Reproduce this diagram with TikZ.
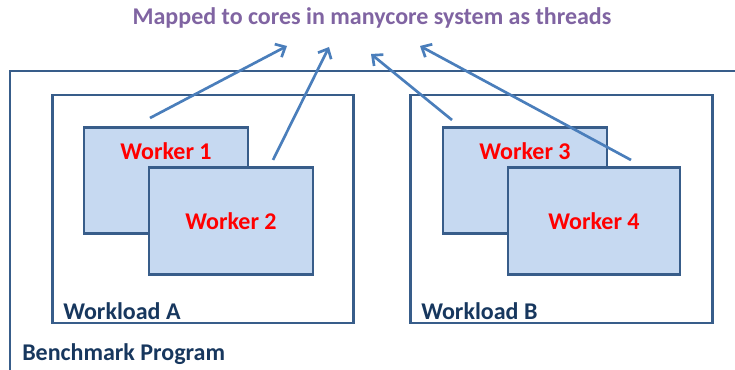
\documentclass[tikz,border=0pt]{standalone}
\usepackage{fontspec}
\setmainfont{Carlito}
\usepackage{xcolor}
\usepackage{tikz}
\usetikzlibrary{arrows.meta,positioning}

\definecolor{boxline}{RGB}{56,93,138}
\definecolor{boxfill}{RGB}{198,217,241}
\definecolor{arrowblue}{RGB}{74,126,187}
\definecolor{navytext}{RGB}{23,55,94}
\definecolor{titlepurple}{RGB}{128,100,162}

\tikzset{
  frame/.style={draw=boxline,line width=2.1pt},
  workload/.style={frame,minimum width=226pt,minimum height=171pt,inner sep=0pt},
  worker/.style={frame,fill=boxfill,minimum width=123pt,minimum height=80pt,
    inner sep=0pt,text=red,font=\bfseries\fontsize{18}{21}\selectfont},
  wlabel/.style={text=red,font=\bfseries\fontsize{18}{21}\selectfont},
  blabel/.style={text=navytext,font=\bfseries\fontsize{18}{21}\selectfont,inner sep=0pt},
  mapto/.style={arrowblue,line width=2pt,-{Straight Barb[length=6pt,width=11pt,line width=2pt]}}
}

\begin{document}
\begin{tikzpicture}[x=0.75pt,y=-0.75pt]
\useasboundingbox (0,0) rectangle (735,370);

% Title
\node[text=titlepurple,font=\bfseries\fontsize{18}{21}\selectfont] (title) at (372,18)
  {Mapped to cores in manycore system as threads};

% Benchmark program frame (open to the right and bottom)
\draw[frame] (10,370) -- (10,71) -- (735,71);
\node[blabel,anchor=west] (bench) at (22,354) {Benchmark Program};

% Workloads
\node[workload] (wlA) at (203,209) {};
\node[workload] (wlB) at (561.5,209) {};
\node[blabel,anchor=west] (labA) at (63,311) {Workload A};
\node[blabel,anchor=west] (labB) at (421,311) {Workload B};

% Workers
\node[worker] (w1) at (166,180.5) {};
\node[wlabel,below=9pt of w1.north,anchor=north] (t1) {Worker 1};
\node[worker] (w2) at (231,221) {Worker 2};
\node[worker] (w3) at (525,180.5) {};
\node[wlabel,below=9pt of w3.north,anchor=north] (t3) {Worker 3};
\node[worker,minimum width=129pt] (w4) at (594,221) {Worker 4};

% Mapping to cores
\coordinate (s1) at (150,118);
\coordinate (s2) at (273,160);
\coordinate (s3) at (452,120);
\coordinate (s4) at (631,160);
\coordinate (c1) at (287,46);
\coordinate (c2) at (329,47);
\coordinate (c3) at (371,54);
\coordinate (c4) at (420,46);

\draw[mapto] (s1) -- (c1);
\draw[mapto] (s2) -- (c2);
\draw[mapto] (s3) -- (c3);
\draw[mapto] (s4) -- (c4);

\end{tikzpicture}
\end{document}
